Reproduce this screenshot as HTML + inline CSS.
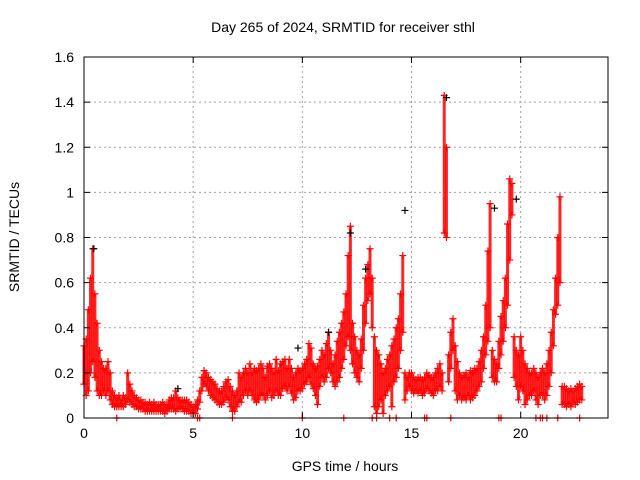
<!DOCTYPE html>
<html><head><meta charset="utf-8"><style>
body{margin:0;background:#fff}
svg{display:block;font-family:"Liberation Sans",sans-serif;font-size:14px}
</style></head><body>
<svg id="c" width="640" height="480">
<text x="343" y="32" text-anchor="middle">Day 265 of 2024, SRMTID for receiver sthl</text>
<text x="345" y="471" text-anchor="middle">GPS time / hours</text>
<text transform="translate(19,237) rotate(-90)" text-anchor="middle">SRMTID / TECUs</text>
<g id="grid"></g><g id="marks"></g>
<rect x="84" y="57" width="524" height="361" fill="none" stroke="#000" stroke-width="1"/>
<g id="ticks"></g>
</svg>
<script>
const xTicks=[0,5,10,15,20];
const yTicks=[0,0.2,0.4,0.6,0.8,1,1.2,1.4,1.6];
const yTickLabels=["0","0.2","0.4","0.6","0.8","1","1.2","1.4","1.6"];
const hi=[0.32,0.35,0.48,0.62,0.75,0.55,0.42,0.30,0.25,0.22,
0.22,0.25,0.20,0.12,0.10,0.09,0.10,0.08,0.10,0.09,
0.20,0.15,0.12,0.10,0.09,0.08,0.08,0.07,0.07,0.06,
0.07,0.06,0.07,0.06,0.06,0.06,0.07,0.06,0.06,0.08,
0.09,0.09,0.12,0.09,0.08,0.08,0.08,0.08,0.07,0.06,
0.05,0.06,0.08,0.12,0.18,0.21,0.20,0.18,0.17,0.16,
0.15,0.13,0.12,0.12,0.14,0.16,0.17,0.14,0.12,0.10,
0.12,0.20,0.18,0.20,0.22,0.20,0.24,0.20,0.22,0.21,
0.22,0.24,0.22,0.18,0.23,0.24,0.22,0.20,0.26,0.21,
0.24,0.25,0.26,0.22,0.26,0.22,0.18,0.20,0.22,0.21,
0.22,0.24,0.26,0.33,0.31,0.24,0.22,0.23,0.26,0.30,
0.28,0.33,0.38,0.30,0.24,0.28,0.34,0.38,0.42,0.47,
0.55,0.72,0.85,0.42,0.36,0.30,0.28,0.35,0.50,0.62,
0.68,0.75,0.62,0.36,0.30,0.28,0.24,0.20,0.22,0.26,
0.28,0.32,0.35,0.40,0.44,0.55,0.72,0.20,0.18,0.20,
0.20,0.18,0.17,0.18,0.18,0.17,0.18,0.20,0.19,0.18,
0.18,0.20,0.22,0.24,0.20,1.43,1.20,0.28,0.38,0.44,
0.32,0.25,0.20,0.18,0.19,0.20,0.18,0.21,0.20,0.22,
0.22,0.25,0.30,0.36,0.50,0.74,0.95,0.30,0.26,0.24,
0.34,0.45,0.52,0.62,0.86,1.06,1.04,0.36,0.30,0.28,
0.36,0.30,0.24,0.22,0.20,0.20,0.22,0.20,0.18,0.20,
0.22,0.20,0.24,0.30,0.38,0.48,0.62,0.80,0.98,0.14,
0.14,0.13,0.12,0.13,0.12,0.13,0.14,0.15,0.14];
const lo=[0.15,0.10,0.12,0.20,0.25,0.18,0.12,0.10,0.10,0.12,
0.10,0.12,0.08,0.06,0.05,0.05,0.05,0.05,0.05,0.06,
0.08,0.07,0.06,0.05,0.05,0.04,0.04,0.04,0.03,0.03,
0.03,0.03,0.03,0.03,0.03,0.03,0.03,0.02,0.03,0.04,
0.04,0.04,0.03,0.04,0.04,0.04,0.03,0.03,0.03,0.02,
0.02,0.02,0.04,0.07,0.12,0.15,0.14,0.12,0.10,0.09,
0.08,0.07,0.06,0.06,0.07,0.09,0.08,0.05,0.03,0.03,
0.05,0.07,0.07,0.10,0.12,0.10,0.12,0.10,0.08,0.07,
0.08,0.10,0.10,0.08,0.10,0.12,0.09,0.10,0.12,0.10,
0.10,0.13,0.14,0.12,0.14,0.11,0.08,0.09,0.12,0.12,
0.13,0.15,0.16,0.18,0.15,0.13,0.10,0.06,0.14,0.18,
0.16,0.18,0.22,0.20,0.16,0.14,0.16,0.18,0.22,0.26,
0.32,0.36,0.30,0.24,0.20,0.18,0.16,0.22,0.30,0.42,
0.52,0.55,0.40,0.05,0.02,0.05,0.08,0.02,0.10,0.12,
0.14,0.05,0.16,0.18,0.22,0.30,0.38,0.08,0.12,0.14,
0.12,0.11,0.12,0.11,0.12,0.10,0.11,0.13,0.12,0.11,
0.10,0.12,0.12,0.14,0.12,0.82,0.80,0.16,0.22,0.30,
0.12,0.08,0.10,0.08,0.09,0.08,0.10,0.08,0.09,0.10,
0.12,0.14,0.16,0.22,0.28,0.34,0.40,0.18,0.16,0.16,
0.22,0.28,0.34,0.40,0.50,0.70,0.90,0.18,0.14,0.08,
0.14,0.12,0.06,0.08,0.10,0.10,0.12,0.08,0.06,0.10,
0.10,0.08,0.10,0.14,0.20,0.32,0.46,0.50,0.60,0.06,
0.06,0.05,0.06,0.05,0.07,0.06,0.07,0.08,0.08];
const zeroTimes=[1.5,5.2,5.3,6.8,10.0,11.9,13.2,13.4,14.0,14.3,15.6,15.7,16.8,19.0,19.1,20.7,20.9,21.0,21.2,21.7,22.7];
const blackT=[0.45,12.2,14.7,16.6,18.8,19.8,11.2,4.3,9.8,12.9];
const blackV=[0.75,0.82,0.92,1.42,0.93,0.97,0.38,0.13,0.31,0.66];
const X0=84,X1=608,Y0=418,Y1=57,XMAX=24,YMAX=1.6;
const sx=t=>X0+(X1-X0)*t/XMAX, sy=v=>Y0-(Y0-Y1)*v/YMAX;
const NS="http://www.w3.org/2000/svg";
function mk(tag,parent,attrs){const e=document.createElementNS(NS,tag);for(const k in attrs)e.setAttribute(k,attrs[k]);parent.appendChild(e);return e;}
const grid=document.getElementById('grid'),ticks=document.getElementById('ticks'),marks=document.getElementById('marks');
xTicks.forEach(t=>{const x=sx(t);
 if(t>0){const g=mk('line',grid,{x1:x,x2:x,y1:Y0,y2:Y1,stroke:'#a0a0a0','stroke-dasharray':'2,3'});
 
 }
 const tl=mk('text',ticks,{x:x,y:Y0+20,'text-anchor':'middle'});tl.textContent=t;
 
 
 mk('line',ticks,{x1:x,x2:x,y1:Y0,y2:Y0-6,stroke:'#000'});mk('line',ticks,{x1:x,x2:x,y1:Y1,y2:Y1+6,stroke:'#000'});});
yTicks.forEach((v,i)=>{const y=sy(v);
 if(v>0&&v<YMAX){const g=mk('line',grid,{x1:X0,x2:X1,y1:y,y2:y,stroke:'#a0a0a0','stroke-dasharray':'2,3'});
 
 }
 const tl=mk('text',ticks,{x:X0-10,y:y+5,'text-anchor':'end'});tl.textContent=yTickLabels[i];
 
 
 mk('line',ticks,{x1:X0,x2:X0+6,y1:y,y2:y,stroke:'#000'});mk('line',ticks,{x1:X1,x2:X1-6,y1:y,y2:y,stroke:'#000'});});
function plus(x,y,col){const p=mk('path',marks,{d:`M${x-3.5},${y}h7M${x},${y-3.5}v7`,stroke:col,'stroke-width':1.2,fill:'none'});
 
 }
hi.forEach((h,i)=>{const t=i*0.1,x=sx(t);
 const b=mk('line',marks,{x1:x,x2:x,y1:sy(lo[i]),y2:sy(h),stroke:'#f00','stroke-width':3,opacity:0.85});
 
 
 plus(x,sy(h),'#f00');plus(x,sy(lo[i]),'#f00');});
zeroTimes.forEach(t=>plus(sx(t),sy(0),'#f00'));
blackT.forEach((t,i)=>plus(sx(t),sy(blackV[i]),'#000'));
</script>
</body></html>
